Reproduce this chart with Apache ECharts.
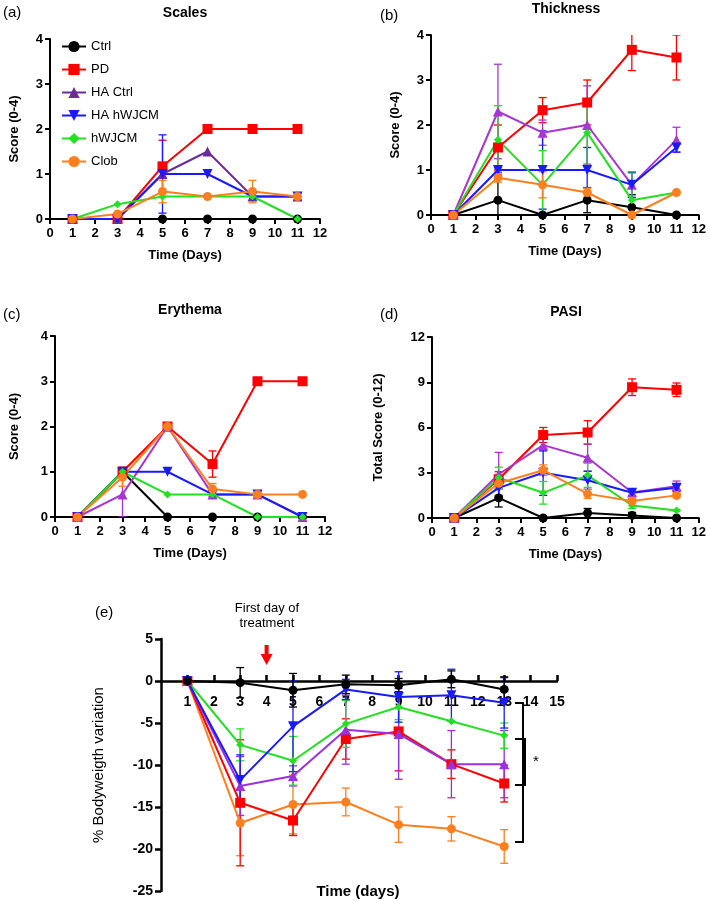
<!DOCTYPE html>
<html>
<head>
<meta charset="utf-8">
<script src="https://cdn.jsdelivr.net/npm/echarts@6/dist/echarts.min.js"></script>
<style>html,body{margin:0;padding:0;background:#fff}#c{width:709px;height:901px}</style>
</head>
<body>
<div id="c"></div>
<script>
// ---------- DATA ----------
const groups = ['Ctrl', 'PD', 'HA Ctrl', 'HA hWJCM', 'hWJCM', 'Clob'];
const days = [1, 3, 5, 7, 9, 11];
const daysBW = [1, 3, 5, 7, 9, 11, 13];

// (a) Scales  (mean, error)
const scalesCtrl = [0, 0, 0, 0, 0, 0];
const scalesPD = [0, 0, 1.17, 2, 2, 2];
const scalesHACtrl = [0, 0, 1, 1.5, 0.5, 0.5];
const scalesHAhWJCM = [0, 0, 1, 1, 0.5, 0.5];
const scaleshWJCM = [0, 0.33, 0.5, 0.5, 0.5, 0];
const scalesClob = [0, 0.11, 0.61, 0.5, 0.61, 0.5];
const scalesCtrlErr = [0, 0, 0, 0, 0, 0];
const scalesPDErr = [0, 0, 0.58, 0, 0, 0];
const scalesHACtrlErr = [0, 0, 0, 0, 0, 0];
const scalesHAhWJCMErr = [0, 0, 0.87, 0, 0, 0.07];
const scaleshWJCMErr = [0, 0, 0, 0, 0, 0];
const scalesClobErr = [0, 0, 0.25, 0, 0.25, 0];

// (b) Thickness
const thickCtrl = [0, 0.33, 0, 0.33, 0.17, 0];
const thickPD = [0, 1.5, 2.33, 2.5, 3.67, 3.5];
const thickHACtrl = [0, 2.3, 1.83, 2.0, 0.67, 1.67];
const thickHAhWJCM = [0, 1, 1, 1, 0.67, 1.5];
const thickhWJCM = [0, 1.67, 0.67, 1.83, 0.33, 0.5];
const thickClob = [0, 0.83, 0.67, 0.5, 0, 0.5];
const thickCtrlErr = [0, 0.56, 0, 0.28, 0.28, 0];
const thickPDErr = [0, 0.5, 0.28, 0.5, 0.46, 0.5];
const thickHACtrlErr = [0, 1.05, 0.28, 0.87, 0.28, 0.28];
const thickHAhWJCMErr = [0, 0.05, 0.87, 0.5, 0.28, 0.1];
const thickhWJCMErr = [0, 0.76, 0.76, 0.73, 0.6, 0];
const thickClobErr = [0, 0.1, 0.29, 0.1, 0, 0];

// (c) Erythema
const eryCtrl = [0, 1, 0, 0, 0, 0];
const eryPD = [0, 1, 2, 1.17, 3, 3];
const eryHACtrl = [0, 0.5, 2, 0.5, 0.5, 0];
const eryHAhWJCM = [0, 1, 1, 0.5, 0.5, 0];
const eryhWJCM = [0, 1, 0.5, 0.5, 0, 0];
const eryClob = [0, 0.88, 2, 0.62, 0.5, 0.5];
const eryCtrlErr = [0, 0, 0, 0, 0, 0];
const eryPDErr = [0, 0.1, 0, 0.29, 0, 0];
const eryHACtrlErr = [0, 0.5, 0, 0.05, 0, 0];
const eryHAhWJCMErr = [0, 0, 0, 0, 0.05, 0];
const eryhWJCMErr = [0, 0, 0, 0, 0, 0];
const eryClobErr = [0, 0.2, 0, 0.12, 0, 0];

// (d) PASI
const pasiCtrl = [0, 1.33, 0, 0.33, 0.17, 0];
const pasiPD = [0, 2.57, 5.5, 5.67, 8.67, 8.5];
const pasiHACtrl = [0, 2.9, 4.83, 4.0, 1.69, 2.1];
const pasiHAhWJCM = [0, 2.0, 3.0, 2.5, 1.67, 2.0];
const pasihWJCM = [0, 2.67, 1.67, 2.83, 0.83, 0.5];
const pasiClob = [0, 2.3, 3.17, 1.6, 1.13, 1.5];
const pasiCtrlErr = [0, 0.6, 0, 0.3, 0.2, 0];
const pasiPDErr = [0, 0.5, 0.5, 0.78, 0.55, 0.45];
const pasiHACtrlErr = [0, 1.45, 0.4, 0.9, 0.2, 0.35];
const pasiHAhWJCMErr = [0, 0.5, 1.5, 0.6, 0.2, 0.2];
const pasihWJCMErr = [0, 0.7, 0.75, 0.8, 0.2, 0.05];
const pasiClobErr = [0, 0.4, 0.35, 0.3, 0.15, 0.15];

// (e) % Bodyweight variation
const bwCtrl = [0, -0.2, -1.1, -0.4, -0.5, 0.2, -1.0];
const bwPD = [0, -14.5, -16.6, -6.9, -6.0, -9.9, -12.2];
const bwHACtrl = [0, -12.5, -11.3, -5.8, -6.3, -9.9, -9.9];
const bwHAhWJCM = [0, -11.8, -5.4, -1.0, -1.9, -1.7, -2.6];
const bwhWJCM = [0, -7.6, -9.5, -5.1, -3.1, -4.8, -6.5];
const bwClob = [0, -16.9, -14.7, -14.4, -17.1, -17.6, -19.7];
const bwCtrlErr = [0, 1.8, 2.0, 1.1, 0.8, 1.0, 1.5];
const bwPDErr = [0, 7.5, 1.8, 2.4, 4.7, 1.7, 2.2];
const bwHACtrlErr = [0, 3.5, 1.2, 4.1, 5.4, 4.0, 4.0];
const bwHAhWJCMErr = [0, 3.0, 5.4, 1.2, 3.0, 3.1, 3.0];
const bwhWJCMErr = [0, 1.9, 2.9, 2.8, 1.5, 0, 1.5];
const bwClobErr = [0, 3.9, 3.5, 1.65, 2.1, 1.45, 2.0];
const bwMin = -25, bwMax = 5;

// ---------- STYLE ----------
const FONT = 'Liberation Sans, Arial, sans-serif';
const colorsA = ['#000000', '#FF0000', '#6A2C9A', '#1A1AFF', '#22E022', '#FF7F1E'];
const colorsB = ['#000000', '#FF0000', '#AA36D2', '#1A1AFF', '#22E022', '#FF7F1E'];
const colorsE = ['#000000', '#FF0000', '#9B30E0', '#1A1AFF', '#22E022', '#FF7F1E'];
const invTri = 'path://M0,0 L20,0 L10,17 Z';
const symbols = ['circle', 'rect', 'triangle', invTri, 'diamond', 'circle'];
const symSizes = [9, 10, 10, 10, 8, 9];

function errRender(params, api) {
  const x = api.value(0), y = api.value(1), e = api.value(2);
  const hi = api.coord([x, y + e]), lo = api.coord([x, y - e]);
  const w = 4;
  const st = { stroke: api.visual('color'), lineWidth: 1.3 };
  return {
    type: 'group', children: [
      { type: 'line', shape: { x1: hi[0], y1: hi[1], x2: lo[0], y2: lo[1] }, style: st },
      { type: 'line', shape: { x1: hi[0] - w, y1: hi[1], x2: hi[0] + w, y2: hi[1] }, style: st },
      { type: 'line', shape: { x1: lo[0] - w, y1: lo[1], x2: lo[0] + w, y2: lo[1] }, style: st }
    ]
  };
}

const series = [];
// order: drawing order of the groups (index into groups)
function addPanel(idx, xs, valsList, errList, colors, order) {
  order.forEach(g => {
    const vals = valsList[g], errs = errList[g];
    const ed = [];
    xs.forEach((x, i) => { if (errs[i] > 0) ed.push([x, vals[i], errs[i]]); });
    series.push({
      type: 'custom', name: groups[g] + ' err ' + idx, xAxisIndex: idx, yAxisIndex: idx,
      renderItem: errRender, data: ed, clip: true, itemStyle: { color: colors[g] }, z: 3, silent: true
    });
  });
  order.forEach(g => {
    const vals = valsList[g];
    series.push({
      type: 'line', name: groups[g], xAxisIndex: idx, yAxisIndex: idx,
      data: xs.map((x, i) => [x, vals[i]]),
      symbol: symbols[g], symbolSize: symSizes[g], showAllSymbol: true,
      lineStyle: { width: 2, color: colors[g] }, itemStyle: { color: colors[g] },
      z: 4, animation: false, clip: false
    });
  });
}

const ord = [0, 1, 2, 3, 4, 5];
addPanel(0, days, [scalesCtrl, scalesPD, scalesHACtrl, scalesHAhWJCM, scaleshWJCM, scalesClob],
  [scalesCtrlErr, scalesPDErr, scalesHACtrlErr, scalesHAhWJCMErr, scaleshWJCMErr, scalesClobErr], colorsA, ord);
addPanel(1, days, [thickCtrl, thickPD, thickHACtrl, thickHAhWJCM, thickhWJCM, thickClob],
  [thickCtrlErr, thickPDErr, thickHACtrlErr, thickHAhWJCMErr, thickhWJCMErr, thickClobErr], colorsB, ord);
addPanel(2, days, [eryCtrl, eryPD, eryHACtrl, eryHAhWJCM, eryhWJCM, eryClob],
  [eryCtrlErr, eryPDErr, eryHACtrlErr, eryHAhWJCMErr, eryhWJCMErr, eryClobErr], colorsB, ord);
addPanel(3, days, [pasiCtrl, pasiPD, pasiHACtrl, pasiHAhWJCM, pasihWJCM, pasiClob],
  [pasiCtrlErr, pasiPDErr, pasiHACtrlErr, pasiHAhWJCMErr, pasihWJCMErr, pasiClobErr], colorsB, ord);
addPanel(4, daysBW, [bwCtrl, bwPD, bwHACtrl, bwHAhWJCM, bwhWJCM, bwClob],
  [bwCtrlErr, bwPDErr, bwHACtrlErr, bwHAhWJCMErr, bwhWJCMErr, bwClobErr], colorsE, [5, 1, 2, 4, 3, 0]);

// red arrow marking first day of treatment
const arrowDay = 4, arrowLevel = 3.1;
series.push({
  type: 'line', name: 'arrow', xAxisIndex: 4, yAxisIndex: 4, data: [], silent: true,
  markPoint: {
    symbol: 'path://M4,0 L8,0 L8,9 L12,9 L6,20 L0,9 L4,9 Z', symbolSize: [12, 20],
    itemStyle: { color: '#FF0000' }, label: { show: false },
    data: [{ coord: [arrowDay, arrowLevel] }]
  }
});

const axisLine = { lineStyle: { color: '#000', width: 2 } };
const axisTick = { length: 5, lineStyle: { color: '#000', width: 2 } };
const lbl = { color: '#000', fontWeight: 'bold', fontSize: 13, fontFamily: FONT };
const nameStyle = { color: '#000', fontWeight: 'bold', fontSize: 13, fontFamily: FONT };

function xAx(idx, gap) {
  return {
    gridIndex: idx, type: 'value', min: 0, max: 12, interval: 1,
    axisLine: axisLine, axisTick: axisTick, axisLabel: Object.assign({ margin: 8 }, lbl),
    splitLine: { show: false }, name: 'Time (Days)', nameLocation: 'middle', nameGap: gap, nameTextStyle: nameStyle
  };
}
function yAx(idx, max, itv, name, gap) {
  return {
    gridIndex: idx, type: 'value', min: 0, max: max, interval: itv,
    axisLine: Object.assign({ show: true }, axisLine), axisTick: Object.assign({ show: true }, axisTick),
    axisLabel: Object.assign({ margin: 7 }, lbl),
    splitLine: { show: false }, name: name, nameLocation: 'middle', nameGap: gap, nameTextStyle: nameStyle
  };
}

const gridE = { left: 161, top: 639, width: 396, height: 252 };
// x axis of panel (e) sits at y = 0
const zeroOffset = -gridE.height * (0 - bwMin) / (bwMax - bwMin);

const option = {
  backgroundColor: '#fff',
  animation: false,
  grid: [
    { left: 50, top: 39, width: 270, height: 180 },
    { left: 431, top: 35, width: 271, height: 180 },
    { left: 55, top: 336, width: 270, height: 181 },
    { left: 432, top: 337, width: 271, height: 181 },
    gridE
  ],
  xAxis: [
    xAx(0, 30), xAx(1, 30), xAx(2, 30), xAx(3, 30),
    {
      gridIndex: 4, type: 'value', min: 0, max: 15, interval: 1, position: 'bottom', offset: zeroOffset,
      axisLine: { onZero: false, lineStyle: { color: '#000', width: 2.5 } },
      axisTick: { inside: true, length: 6, lineStyle: { color: '#000', width: 2.5 } },
      axisLabel: Object.assign({ margin: 14, showMinLabel: false }, lbl, { fontSize: 14 }),
      splitLine: { show: false }
    }
  ],
  yAxis: [
    yAx(0, 4, 1, 'Score (0-4)', 29),
    yAx(1, 4, 1, 'Score (0-4)', 29),
    yAx(2, 4, 1, 'Score (0-4)', 34),
    yAx(3, 12, 3, 'Total Score (0-12)', 47),
    {
      gridIndex: 4, type: 'value', min: bwMin, max: bwMax, interval: 5,
      axisLine: { show: true, onZero: false, lineStyle: { color: '#000', width: 2.5 } },
      axisTick: { show: true, length: 6, lineStyle: { color: '#000', width: 2.5 } },
      axisLabel: Object.assign({ margin: 8 }, lbl, { fontSize: 14 }),
      splitLine: { show: false },
      name: '% Bodyweigth variation', nameLocation: 'middle', nameGap: 55,
      nameTextStyle: { color: '#000', fontSize: 15, fontFamily: FONT }
    }
  ],
  legend: {
    data: groups, orient: 'vertical', left: 56, top: 35, itemGap: 10,
    itemWidth: 24, itemHeight: 14, selectedMode: false,
    textStyle: { color: '#000', fontSize: 13, fontFamily: FONT }
  },
  graphic: [
    { type: 'text', x: 185, y: 13, style: { text: 'Scales', font: 'bold 14px ' + FONT, fill: '#000', textAlign: 'center', textVerticalAlign: 'middle' } },
    { type: 'text', x: 566, y: 9, style: { text: 'Thickness', font: 'bold 14px ' + FONT, fill: '#000', textAlign: 'center', textVerticalAlign: 'middle' } },
    { type: 'text', x: 190, y: 310, style: { text: 'Erythema', font: 'bold 14px ' + FONT, fill: '#000', textAlign: 'center', textVerticalAlign: 'middle' } },
    { type: 'text', x: 566, y: 312, style: { text: 'PASI', font: 'bold 14px ' + FONT, fill: '#000', textAlign: 'center', textVerticalAlign: 'middle' } },
    { type: 'text', x: 3, y: 13, style: { text: '(a)', font: '15px ' + FONT, fill: '#000', textVerticalAlign: 'middle' } },
    { type: 'text', x: 380, y: 16, style: { text: '(b)', font: '15px ' + FONT, fill: '#000', textVerticalAlign: 'middle' } },
    { type: 'text', x: 3, y: 315, style: { text: '(c)', font: '15px ' + FONT, fill: '#000', textVerticalAlign: 'middle' } },
    { type: 'text', x: 380, y: 315, style: { text: '(d)', font: '15px ' + FONT, fill: '#000', textVerticalAlign: 'middle' } },
    { type: 'text', x: 95, y: 613, style: { text: '(e)', font: '15px ' + FONT, fill: '#000', textVerticalAlign: 'middle' } },
    { type: 'text', x: 267, y: 608, style: { text: 'First day of', font: '13px ' + FONT, fill: '#000', textAlign: 'center', textVerticalAlign: 'middle' } },
    { type: 'text', x: 267, y: 623, style: { text: 'treatment', font: '13px ' + FONT, fill: '#000', textAlign: 'center', textVerticalAlign: 'middle' } },
    { type: 'text', x: 358, y: 892, style: { text: 'Time (days)', font: 'bold 15px ' + FONT, fill: '#000', textAlign: 'center', textVerticalAlign: 'middle' } },
    { type: 'text', x: 536, y: 762, style: { text: '*', font: '15px ' + FONT, fill: '#000', textAlign: 'center', textVerticalAlign: 'middle' } },
    { type: 'polyline', shape: { points: [[515, 703], [523, 703], [523, 842], [515, 842]] }, style: { stroke: '#000', lineWidth: 2, fill: null } },
    { type: 'polyline', shape: { points: [[515, 739], [525, 739], [525, 785], [515, 785]] }, style: { stroke: '#000', lineWidth: 2, fill: null } }
  ],
  series: series
};

const chart = echarts.init(document.getElementById('c'), null, { renderer: 'canvas' });
chart.setOption(option);
</script>
</body>
</html>
